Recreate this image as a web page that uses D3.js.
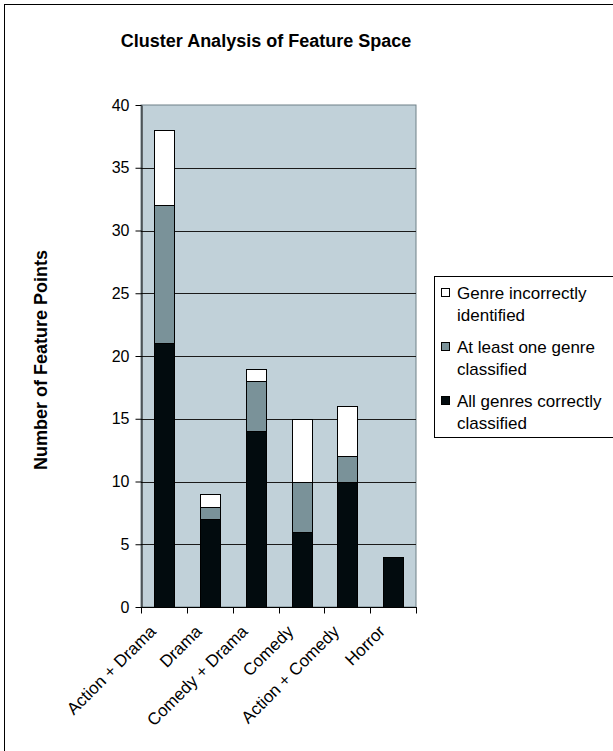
<!DOCTYPE html>
<html>
<head>
<meta charset="utf-8">
<script src="https://cdn.jsdelivr.net/npm/d3@7"></script>
<style>
  html, body { margin: 0; padding: 0; background: #fff; }
  svg { display: block; font-family: "Liberation Sans", Arial, sans-serif; }
</style>
</head>
<body>
<svg id="chart" width="613" height="751"></svg>
<script>
// Clusters along the x axis
const categories = ["Action + Drama", "Drama", "Comedy + Drama", "Comedy", "Action + Comedy", "Horror"];
// Stack segments, bottom to top
const allCorrect = [21, 7, 14, 6, 10, 4];
const atLeastOne = [11, 1, 4, 4, 2, 0];
const incorrect = [6, 1, 1, 5, 4, 0];
const seriesNames = ["All genres correctly classified", "At least one genre classified", "Genre incorrectly identified"];
const yTicks = [0, 5, 10, 15, 20, 25, 30, 35, 40];

const colors = ["#020b0e", "#7a9299", "#ffffff"];

const svg = d3.select("#chart");

// outer frame (runs past the right and bottom edges)
svg.append("rect")
  .attr("x", 4.5).attr("y", 4.5)
  .attr("width", 640).attr("height", 780)
  .attr("fill", "#fff").attr("stroke", "#000").attr("stroke-width", 1);

const plot = { left: 141, right: 416, top: 105, bottom: 607 };

const x = d3.scaleBand().domain(categories).range([plot.left, plot.right]).paddingInner(0.57).paddingOuter(0.285);
const xOuter = d3.scaleBand().domain(categories).range([plot.left, plot.right]);
const y = d3.scaleLinear().domain([0, 40]).range([plot.bottom, plot.top]);

// plot background
svg.append("rect")
  .attr("x", plot.left).attr("y", plot.top)
  .attr("width", plot.right - plot.left).attr("height", plot.bottom - plot.top)
  .attr("fill", "#c1d1d9").attr("stroke", "#6f8087").attr("stroke-width", 1);

// gridlines
svg.append("g").selectAll("line").data(yTicks.filter(t => t > 0 && t < 40)).join("line")
  .attr("x1", plot.left).attr("x2", plot.right)
  .attr("y1", d => Math.round(y(d)) + 0.5).attr("y2", d => Math.round(y(d)) + 0.5)
  .attr("stroke", "#1a1a1a").attr("stroke-width", 1);

// stacked bars
const rows = categories.map((c, i) => ({ cat: c, s0: allCorrect[i], s1: atLeastOne[i], s2: incorrect[i] }));
const stack = d3.stack().keys(["s0", "s1", "s2"])(rows);
stack.forEach((layer, li) => {
  svg.append("g").selectAll("rect").data(layer.filter(d => d[1] > d[0])).join("rect")
    .attr("x", d => Math.round(x(d.data.cat)) + 0.5)
    .attr("width", Math.round(x.bandwidth()))
    .attr("y", d => Math.round(y(d[1])) + 0.5)
    .attr("height", d => Math.round(y(d[0])) - Math.round(y(d[1])))
    .attr("fill", colors[li])
    .attr("stroke", "#000").attr("stroke-width", 1);
});

// y axis
const yAxis = svg.append("g")
  .attr("transform", `translate(${plot.left + 0.5},0)`)
  .call(d3.axisLeft(y).tickValues(yTicks).tickSize(6).tickPadding(6).tickSizeOuter(0));
yAxis.select(".domain").attr("stroke", "#000");
yAxis.selectAll(".tick line").attr("stroke", "#000");
yAxis.selectAll("text").attr("font-size", 16).attr("fill", "#000").attr("font-family", "Liberation Sans, Arial, sans-serif");

// x axis: ticks at category boundaries
const xg = svg.append("g").attr("transform", `translate(0,${plot.bottom + 0.5})`);
xg.append("line").attr("x1", plot.left).attr("x2", plot.right + 1).attr("y1", 0).attr("y2", 0).attr("stroke", "#000");
const bounds = categories.map(c => xOuter(c)).concat([plot.right]);
xg.selectAll("line.tk").data(bounds).join("line").attr("class", "tk")
  .attr("x1", d => Math.round(d) + 0.5).attr("x2", d => Math.round(d) + 0.5)
  .attr("y1", 0).attr("y2", 6).attr("stroke", "#000");
xg.selectAll("text").data(categories).join("text")
  .attr("transform", d => `translate(${xOuter(d) + xOuter.bandwidth() / 2 - 7},${25}) rotate(-45)`)
  .attr("text-anchor", "end")
  .attr("font-size", 17)
  .attr("fill", "#000")
  .text(d => d);

// title
svg.append("text")
  .attr("x", 266).attr("y", 47)
  .attr("text-anchor", "middle")
  .attr("font-size", 18).attr("font-weight", "bold")
  .text("Cluster Analysis of Feature Space");

// y axis title
svg.append("text")
  .attr("transform", "translate(47,360) rotate(-90)")
  .attr("text-anchor", "middle")
  .attr("font-size", 18).attr("font-weight", "bold")
  .text("Number of Feature Points");

// legend
const legend = svg.append("g");
legend.append("rect")
  .attr("x", 434.5).attr("y", 276.5).attr("width", 200).attr("height", 161)
  .attr("fill", "#fff").attr("stroke", "#000");
const legendItems = [
  { name: seriesNames[2], lines: ["Genre incorrectly", "identified"], color: colors[2], y: 299 },
  { name: seriesNames[1], lines: ["At least one genre", "classified"], color: colors[1], y: 353 },
  { name: seriesNames[0], lines: ["All genres correctly", "classified"], color: colors[0], y: 407 }
];
legendItems.forEach(it => {
  legend.append("rect")
    .attr("x", 441.5).attr("y", it.y - 10.5).attr("width", 8).attr("height", 8)
    .attr("fill", it.color).attr("stroke", "#000");
  it.lines.forEach((ln, j) => {
    legend.append("text")
      .attr("x", 457).attr("y", it.y + j * 22)
      .attr("font-size", 17).attr("fill", "#000")
      .text(ln);
  });
});
</script>
</body>
</html>
